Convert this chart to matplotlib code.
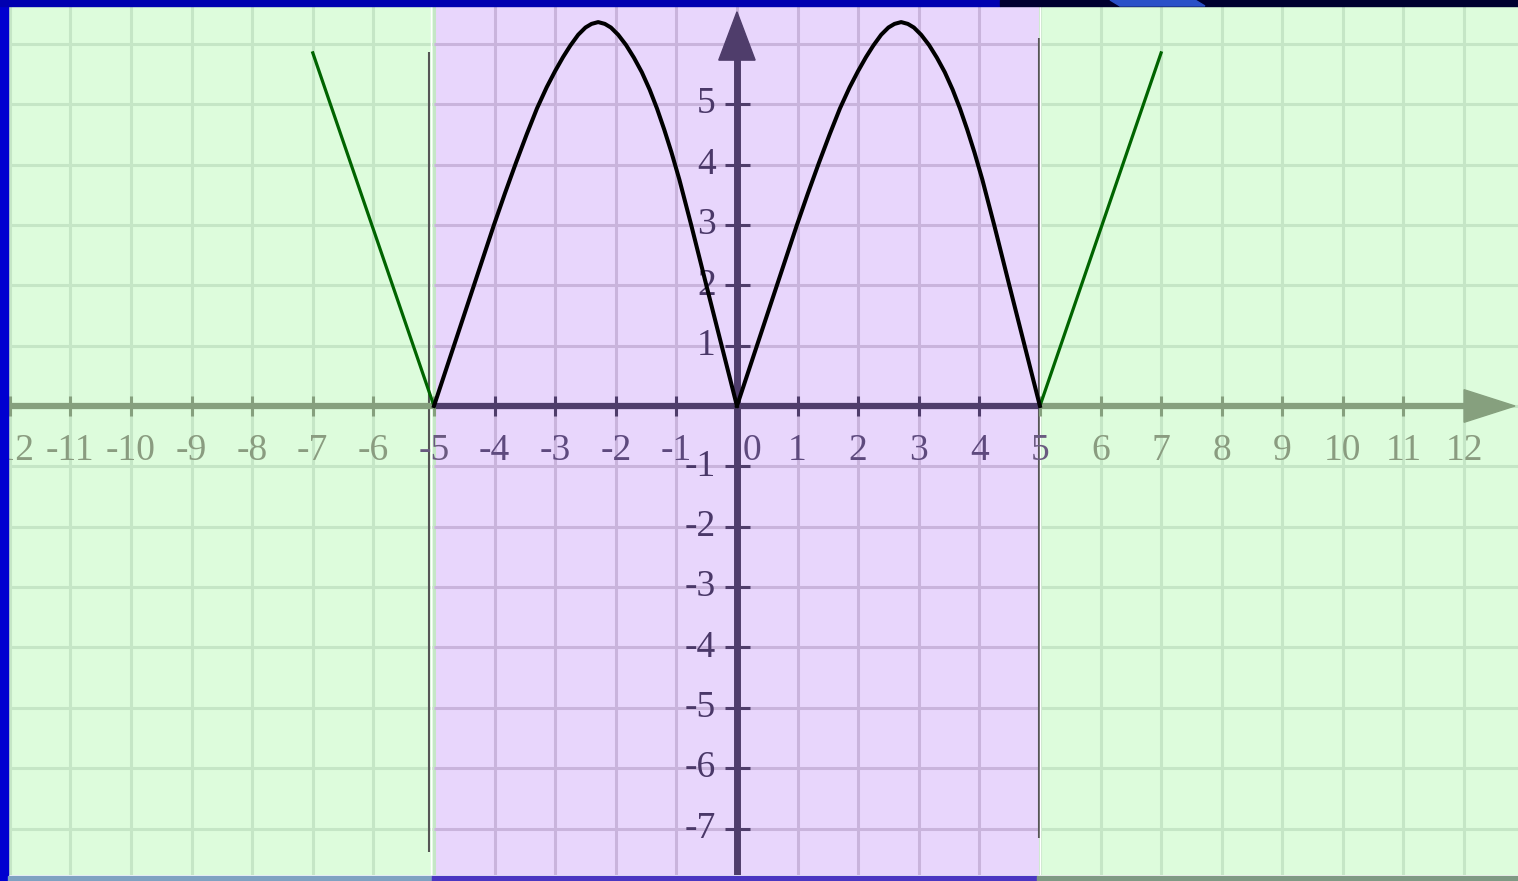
import matplotlib
matplotlib.use("Agg")
import matplotlib.pyplot as plt
import matplotlib.patches as mpatches

# pontos
hump_esq_x = [-5, -4.67, -4.34, -4.01, -3.83, -3.65, -3.47, -3.30, -3.14, -3.0, -2.87,
              -2.75, -2.62, -2.5, -2.4, -2.29, -2.18, -2.08, -1.96, -1.83, -1.70,
              -1.57, -1.44, -1.32, -1.20, -1.08, -0.95, -0.75, -0.50, -0.25, 0]
hump_dir_x = [0, 0.33, 0.66, 0.99, 1.17, 1.35, 1.53, 1.70, 1.86, 2.0, 2.13,
              2.25, 2.38, 2.5, 2.6, 2.71, 2.82, 2.92, 3.04, 3.17, 3.30,
              3.43, 3.56, 3.68, 3.80, 3.92, 4.05, 4.25, 4.5, 4.75, 5.0]
hump_y = [0, 1, 2, 3, 3.52, 4.02, 4.5, 4.93, 5.28, 5.55, 5.78,
          5.97, 6.15, 6.27, 6.33, 6.36, 6.33, 6.27, 6.15, 5.98, 5.77,
          5.53, 5.24, 4.93, 4.58, 4.20, 3.75, 2.98, 1.98, 0.99, 0]

reta_esq_x = [-7, -5]
reta_esq_y = [5.85, 0]
reta_dir_x = [5, 7]
reta_dir_y = [0, 5.85]

x_ticks = list(range(-12, 13))
y_ticks = [-7, -6, -5, -4, -3, -2, -1, 1, 2, 3, 4, 5]
x_grid = list(range(-12, 13))
y_grid = list(range(-7, 7))
x_lim = (-12.03, 12.89)
y_lim = (-7.77, 6.61)

verde_bg = "#ddfcdc"
verde_grid = "#c5e6c6"
roxo_bg = "#e8d6fc"
roxo_grid = "#c9b4dc"
eixo_verde = "#86a07e"
eixo_roxo = "#4f3d6b"
fonte = ["Liberation Serif", "DejaVu Serif"]

W, H = 1518, 881
fig = plt.figure(figsize=(W / 100, H / 100), dpi=100)
fig.patch.set_facecolor("white")
ax = fig.add_axes([8 / W, 6 / H, (W - 8) / W, (H - 13) / H])
ax.set_xlim(*x_lim)
ax.set_ylim(*y_lim)
ax.axis("off")

# fundos
ax.axvspan(x_lim[0], -5, color=verde_bg, zorder=0)
ax.axvspan(5, x_lim[1], color=verde_bg, zorder=0)
ax.axvspan(-5, 5, color=roxo_bg, zorder=0)

# grade
for xg in x_grid:
    c = roxo_grid if -5 < xg < 5 else verde_grid
    ax.axvline(xg, color=c, lw=2.2, zorder=1)
for yg in y_grid:
    ax.hlines(yg, x_lim[0], -5, color=verde_grid, lw=2.2, zorder=1)
    ax.hlines(yg, 5, x_lim[1], color=verde_grid, lw=2.2, zorder=1)
    ax.hlines(yg, -5, 5, color=roxo_grid, lw=2.2, zorder=1)

# linhas de fronteira
ax.vlines([-5.08, 4.98], [-7.39, -7.16], [5.87, 6.10], color="#555555", lw=1.5, zorder=2)
ax.axvline(-5.05, color="white", lw=1.0, zorder=2)
ax.axvline(5.0, color="white", lw=1.0, zorder=2)

# eixo x
ax.hlines(0, x_lim[0], -5, color=eixo_verde, lw=4.5, zorder=3)
ax.hlines(0, 5, 12.0, color=eixo_verde, lw=4.5, zorder=3)
ax.hlines(0, -5, 5, color=eixo_roxo, lw=4.5, zorder=3)
for xt in x_ticks[:-1]:
    c = eixo_roxo if -5 < xt < 5 else eixo_verde
    ax.vlines(xt, -0.17, 0.17, color=c, lw=2.2, zorder=3)
ax.add_patch(mpatches.Polygon([(12.0, 0.27), (12.0, -0.27), (12.84, 0)],
                              closed=True, color=eixo_verde, zorder=3))

# eixo y
ax.vlines(0, y_lim[0], 5.75, color=eixo_roxo, lw=5, zorder=3)
for yt in y_ticks:
    ax.hlines(yt, -0.2, 0.22, color=eixo_roxo, lw=2.2, zorder=3)
ax.add_patch(mpatches.Polygon([(-0.3, 5.73), (0.3, 5.73), (0, 6.53)],
                              closed=True, color=eixo_roxo, zorder=3))

# rótulos
for xt in x_ticks:
    pos = 0.25 if xt == 0 else xt
    if -5 < xt < 5:
        c = "#5e4a7e"
    elif abs(xt) == 5:
        c = "#6a5a80"
    else:
        c = "#8a9c80"
    ax.text(pos, -0.74, str(xt), ha="center", va="center", fontsize=27,
            family=fonte, color=c, zorder=4)
for yt in y_ticks:
    ax.text(-0.35, yt, str(yt), ha="right", va="center", fontsize=27,
            family=fonte, color="#4a3868", zorder=4)

# curvas
ax.plot(reta_esq_x, reta_esq_y, color="#006400", lw=2.3, zorder=5)
ax.plot(reta_dir_x, reta_dir_y, color="#006400", lw=2.3, zorder=5)
ax.plot(hump_esq_x, hump_y, color="black", lw=2.9, zorder=6, solid_joinstyle="round")
ax.plot(hump_dir_x, hump_y, color="black", lw=2.9, zorder=6, solid_joinstyle="round")

# moldura
fig.patches.append(mpatches.Rectangle((0, 0), 8 / W, 1, transform=fig.transFigure,
                                      color="#0000d0", zorder=10))
fig.patches.append(mpatches.Rectangle((0, 1 - 6 / H), 1000 / W, 6 / H, transform=fig.transFigure,
                                      color="#0000b0", zorder=10))
fig.patches.append(mpatches.Rectangle((1000 / W, 1 - 6 / H), 518 / W, 6 / H, transform=fig.transFigure,
                                      color="#000030", zorder=10))
fig.patches.append(mpatches.Polygon([(1110 / W, 1), (1195 / W, 1), (1205 / W, 1 - 6 / H), (1120 / W, 1 - 6 / H)],
                                    closed=True, transform=fig.transFigure, color="#2a50c8", zorder=11))
fig.patches.append(mpatches.Rectangle((8 / W, 0), (432 - 8) / W, 5 / H, transform=fig.transFigure,
                                      color="#7fa2c2", zorder=10))
fig.patches.append(mpatches.Rectangle((432 / W, 0), (1037 - 432) / W, 5 / H, transform=fig.transFigure,
                                      color="#4a36c2", zorder=10))
fig.patches.append(mpatches.Rectangle((1037 / W, 0), (W - 1037) / W, 5 / H, transform=fig.transFigure,
                                      color="#7f9a84", zorder=10))

fig.savefig("out.png", dpi=100)
